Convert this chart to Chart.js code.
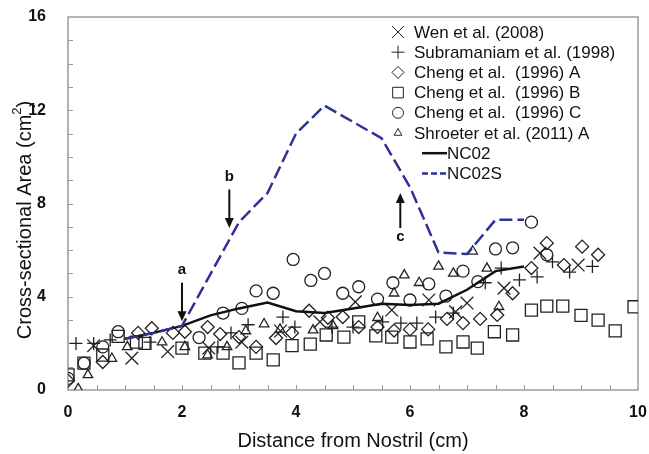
<!DOCTYPE html>
<html>
<head>
<meta charset="utf-8">
<script src="https://cdn.jsdelivr.net/npm/chart.js@4.4.1/dist/chart.umd.min.js"></script>
<style>
  html, body { margin: 0; padding: 0; background: #fff; }
  #wrap { width: 649px; height: 454px; }
</style>
</head>
<body>
<div id="wrap"><canvas id="grafico" width="649" height="454"></canvas></div>
<script>
// Medidas publicadas: [distancia (cm), area (cm2)]
const wen = [[0.45,1.9],[1.12,1.37],[1.75,1.65],[2.47,1.8],[3.05,2.05],[3.73,2.53],[4.42,2.92],
  [5.04,3.78],[5.68,3.43],[6.33,3.86],[6.8,3.35],[7.0,3.73],[7.65,4.37],[8.28,5.87],[8.95,5.36]];
const subramaniam = [[0.14,2.0],[0.45,2.0],[0.74,2.15],[1.44,2.05],[2.63,1.85],[2.86,2.45],[3.16,2.8],
  [3.77,3.13],[3.98,2.7],[4.63,2.7],[5.0,2.7],[5.52,2.92],[5.84,2.87],[6.12,2.87],[6.45,3.13],[6.76,3.3],
  [7.32,4.6],[7.6,5.23],[7.92,4.72],[8.23,4.85],[8.5,5.5],[8.8,5.06],[9.2,5.3]];
const chengA = [[0.0,0.4],[0.61,1.2],[1.23,2.45],[1.47,2.65],[1.84,2.45],[2.05,2.5],[2.45,2.7],[2.67,2.4],
  [3.0,2.27],[3.3,1.85],[3.65,2.23],[3.93,2.45],[4.23,3.4],[4.56,3.1],[4.82,3.13],[5.1,2.7],[5.43,2.7],
  [5.72,2.55],[6.0,2.6],[6.32,2.6],[6.65,3.05],[6.93,2.87],[7.23,3.05],[7.53,3.22],[7.8,4.15],[8.13,5.23],
  [8.4,6.3],[8.7,5.36],[9.02,6.15],[9.3,5.8]];
const chengB = [[0.0,0.65],[0.28,1.15],[0.61,1.5],[0.88,2.3],[1.2,2.05],[1.35,2.0],[2.0,1.8],[2.4,1.58],
  [2.72,1.58],[3.0,1.16],[3.3,1.58],[3.6,1.29],[3.93,1.9],[4.25,1.97],[4.53,2.36],[4.84,2.27],[5.1,2.92],
  [5.4,2.32],[5.68,2.27],[6.0,2.06],[6.3,2.19],[6.63,1.85],[6.93,2.06],[7.18,1.8],[7.48,2.5],[7.8,2.36],
  [8.13,3.43],[8.4,3.6],[8.68,3.6],[9.0,3.2],[9.3,3.0],[9.6,2.54],[9.93,3.57]];
const chengC = [[0.0,0.5],[0.28,1.15],[0.61,1.85],[0.88,2.5],[2.3,2.25],[2.72,3.3],[3.05,3.5],[3.3,4.25],
  [3.6,4.15],[3.95,5.6],[4.26,4.7],[4.5,5.0],[4.82,4.15],[5.1,4.43],[5.43,3.9],[5.7,4.6],[6.0,3.86],
  [6.33,4.55],[6.63,4.03],[6.93,5.1],[7.19,4.65],[7.5,6.05],[7.8,6.1],[8.13,7.2],[8.4,5.8]];
const shroeter = [[0.18,0.05],[0.35,0.65],[0.77,1.35],[1.04,1.85],[1.65,2.05],[2.05,1.85],[2.45,1.5],
  [2.79,1.85],[3.12,2.53],[3.44,2.83],[3.72,2.6],[4.3,2.57],[4.65,2.75],[5.43,3.1],[5.72,4.15],[5.9,4.93],
  [6.16,4.6],[6.5,5.3],[6.76,5.0],[7.1,5.95],[7.35,5.22],[7.56,3.57]];

// Modelos
const nc02 = [[1.0,2.2],[1.5,2.45],[2.0,2.75],[2.5,3.2],[3.0,3.5],[3.5,3.75],[4.0,3.38],[4.5,3.3],
  [5.0,3.5],[5.5,3.7],[6.0,3.65],[6.5,3.7],[7.0,4.3],[7.5,5.1],[8.0,5.3]];
const nc02s = [[1.0,2.2],[1.5,2.45],[2.0,2.75],[3.0,7.2],[3.5,8.45],[4.0,11.0],[4.5,12.2],[5.5,10.8],
  [6.0,8.7],[6.5,5.9],[7.0,5.83],[7.5,7.3],[8.0,7.3]];

const xTicks = [0, 2, 4, 6, 8, 10];
const yTicks = [0, 4, 8, 12, 16];

// Flechas a, b, c: [etiqueta, x, y inicio, y punta, y etiqueta]
const flechas = [['a', 2.0, 4.6, 2.95, 5.15], ['b', 2.83, 8.6, 6.95, 9.15], ['c', 5.83, 6.95, 8.45, 6.55]];

const FUENTE = '"Liberation Sans", Arial, sans-serif';
const TINTA = '#222';

function puntos(arr) {
  return arr.map(p => ({ x: p[0], y: p[1] }));
}

function serie(label, arr, estilo, radio, radioLeyenda) {
  return {
    label: label,
    data: puntos(arr),
    showLine: false,
    pointStyle: estilo,
    pointRadius: radio,
    pointHoverRadius: radio,
    pointBorderWidth: 1.3,
    pointBorderColor: TINTA,
    pointBackgroundColor: 'rgba(0,0,0,0)',
    legendRadius: radioLeyenda,
    order: 1
  };
}

// Marco gris y marcas hacia dentro
const marco = {
  id: 'marco',
  beforeDatasetsDraw(chart) {
    const { ctx, chartArea: a, scales } = chart;
    ctx.save();
    ctx.strokeStyle = '#9a9a9a';
    ctx.lineWidth = 1.5;
    ctx.strokeRect(a.left, a.top, a.right - a.left, a.bottom - a.top);
    ctx.lineWidth = 1;
    ctx.beginPath();
    for (let v = 0.5; v < 10; v += 0.5) {
      const px = Math.round(scales.x.getPixelForValue(v)) + 0.5;
      ctx.moveTo(px, a.bottom);
      ctx.lineTo(px, a.bottom - 5);
    }
    for (let v = 1; v < 16; v += 1) {
      const py = Math.round(scales.y.getPixelForValue(v)) + 0.5;
      ctx.moveTo(a.left, py);
      ctx.lineTo(a.left + 5, py);
    }
    ctx.stroke();
    ctx.restore();
  }
};

const anotaciones = {
  id: 'anotaciones',
  afterDatasetsDraw(chart) {
    const { ctx, scales } = chart;
    ctx.save();
    ctx.strokeStyle = '#111';
    ctx.fillStyle = '#111';
    ctx.lineWidth = 2;
    ctx.font = 'bold 15px ' + FUENTE;
    ctx.textAlign = 'center';
    ctx.textBaseline = 'middle';
    flechas.forEach(f => {
      const px = scales.x.getPixelForValue(f[1]);
      const y1 = scales.y.getPixelForValue(f[2]);
      const y2 = scales.y.getPixelForValue(f[3]);
      const dir = y2 > y1 ? 1 : -1;
      ctx.beginPath();
      ctx.moveTo(px, y1);
      ctx.lineTo(px, y2 - dir * 8);
      ctx.stroke();
      ctx.beginPath();
      ctx.moveTo(px, y2);
      ctx.lineTo(px - 4.5, y2 - dir * 10);
      ctx.lineTo(px + 4.5, y2 - dir * 10);
      ctx.closePath();
      ctx.fill();
      ctx.fillText(f[0], px, scales.y.getPixelForValue(f[4]));
    });
    ctx.restore();
  }
};

// Titulo del eje Y con el exponente de cm2 en pequeño
const tituloY = {
  id: 'tituloY',
  afterDraw(chart) {
    const { ctx } = chart;
    const base = 'Cross-sectional Area (cm', sup = '2', fin = ')';
    ctx.save();
    ctx.translate(25, 220);
    ctx.rotate(-Math.PI / 2);
    ctx.fillStyle = '#111';
    ctx.textBaseline = 'middle';
    ctx.textAlign = 'left';
    ctx.font = '20px ' + FUENTE;
    const wBase = ctx.measureText(base).width;
    const wFin = ctx.measureText(fin).width;
    ctx.font = '13px ' + FUENTE;
    const wSup = ctx.measureText(sup).width;
    let x = -(wBase + wSup + wFin) / 2;
    ctx.font = '20px ' + FUENTE;
    ctx.fillText(base, x, 0);
    x += wBase;
    ctx.font = '13px ' + FUENTE;
    ctx.fillText(sup, x, -8);
    x += wSup;
    ctx.font = '20px ' + FUENTE;
    ctx.fillText(fin, x, 0);
    ctx.restore();
  }
};

const leyenda = {
  id: 'leyenda',
  afterDraw(chart) {
    const { ctx } = chart;
    const x0 = 398, y0 = 32, paso = 20.2;
    ctx.save();
    ctx.font = '17px ' + FUENTE;
    ctx.textBaseline = 'middle';
    ctx.textAlign = 'left';
    chart.data.datasets.forEach((ds, i) => {
      const y = y0 + paso * i;
      if (ds.showLine) {
        ctx.save();
        ctx.strokeStyle = ds.borderColor;
        ctx.lineWidth = ds.borderWidth;
        ctx.setLineDash(ds.legendDash || []);
        ctx.beginPath();
        ctx.moveTo(422, y);
        ctx.lineTo(447, y);
        ctx.stroke();
        ctx.restore();
        ctx.fillStyle = '#111';
        ctx.fillText(ds.label, 447, y + 1);
      } else {
        ctx.strokeStyle = TINTA;
        ctx.fillStyle = 'rgba(0,0,0,0)';
        Chart.helpers.drawPoint(ctx, { pointStyle: ds.pointStyle, radius: ds.legendRadius, borderWidth: 1.2, rotation: 0 }, x0, y);
        ctx.fillStyle = '#111';
        ctx.fillText(ds.label, 414, y + 1);
      }
    });
    ctx.restore();
  }
};

const ctx = document.getElementById('grafico').getContext('2d');
const grafico = new Chart(ctx, {
  type: 'scatter',
  data: {
    datasets: [
      serie('Wen et al. (2008)', wen, 'crossRot', 9, 8.5),
      serie('Subramaniam et al. (1998)', subramaniam, 'cross', 6.5, 6.5),
      serie('Cheng et al.  (1996) A', chengA, 'rectRot', 6.5, 6),
      serie('Cheng et al.  (1996) B', chengB, 'rect', 8.5, 7.5),
      serie('Cheng et al.  (1996) C', chengC, 'circle', 6, 5.5),
      serie('Shroeter et al. (2011) A', shroeter, 'triangle', 5.5, 4.5),
      {
        label: 'NC02',
        data: puntos(nc02),
        showLine: true,
        borderColor: '#111',
        borderWidth: 2.5,
        pointRadius: 0,
        tension: 0,
        order: 0
      },
      {
        label: 'NC02S',
        data: puntos(nc02s),
        showLine: true,
        borderColor: '#2f3196',
        borderWidth: 2.5,
        borderDash: [13, 5],
        legendDash: [6, 3],
        pointRadius: 0,
        tension: 0,
        order: -1
      }
    ]
  },
  options: {
    responsive: false,
    devicePixelRatio: 1,
    animation: false,
    layout: { padding: { top: 17, right: 11, left: 0, bottom: 0 } },
    plugins: {
      legend: { display: false },
      tooltip: { enabled: false }
    },
    scales: {
      x: {
        type: 'linear',
        min: 0,
        max: 10,
        afterBuildTicks: s => { s.ticks = xTicks.map(v => ({ value: v })); },
        afterFit: s => { s.height = 64; s.paddingLeft = 0; s.paddingRight = 0; },
        grid: { display: false },
        border: { display: false },
        ticks: { color: '#111', font: { family: FUENTE, size: 16, weight: 'bold' }, padding: 5, maxRotation: 0 },
        title: { display: true, text: 'Distance from Nostril (cm)', color: '#111',
          font: { family: FUENTE, size: 20 }, padding: { bottom: 1 } }
      },
      y: {
        type: 'linear',
        min: 0,
        max: 16,
        afterBuildTicks: s => { s.ticks = yTicks.map(v => ({ value: v })); },
        afterFit: s => { s.width = 68; s.paddingTop = 0; s.paddingBottom = 0; },
        grid: { display: false },
        border: { display: false },
        ticks: { color: '#111', font: { family: FUENTE, size: 16, weight: 'bold' }, padding: 14 },
        title: { display: false }
      }
    }
  },
  plugins: [marco, anotaciones, tituloY, leyenda]
});
</script>
</body>
</html>
